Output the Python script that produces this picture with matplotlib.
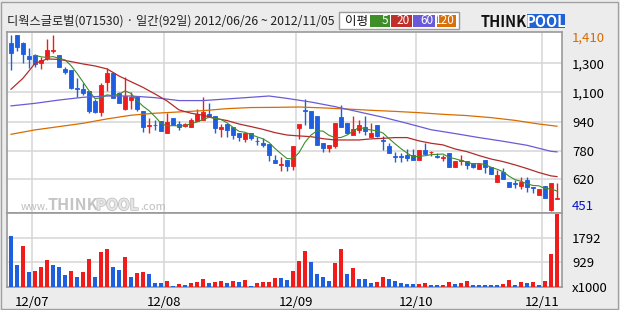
import matplotlib
matplotlib.use("Agg")
import matplotlib.pyplot as plt
import matplotlib.patheffects as pe
from matplotlib.patches import Rectangle
import numpy as np
import pandas as pd

plt.rcParams['font.family'] = ['Noto Sans CJK KR', 'DejaVu Sans']

# ---- data ----
title = "디웍스글로벌(071530) · 일간(92일) 2012/06/26 ~ 2012/11/05"

opens = [1365, 1410, 1365, 1296, 1300, 1259, 1283, 1320, 1300, 1225,
         1219, 1119, 1116, 1104, 1050, 992, 1156, 1205, 1096, 1005,
         1053, 1073, 995, 914, 920, 938, 875, 956, 924, 914,
         910, 942, 948, 981, 968, 897, 922, 906, 877, 843,
         875, 833, 821, 815, 728, 699, 728, 695, 904, 999,
         995, 968, 819, 795, 804, 962, 930, 865, 892, 906,
         855, 919, 837, 804, 752, 748, 756, 756, 730, 782,
         770, 748, 739, 766, 690, 723, 720, 710, 681, 728,
         688, 610, 661, 610, 601, 586, 619, 580, 536, 586,
         455, 515]
highs = [1410, 1410, 1373, 1337, 1306, 1292, 1388, 1410, 1300, 1237,
         1219, 1174, 1146, 1104, 1059, 1146, 1229, 1210, 1101, 1183,
         1101, 1077, 995, 959, 946, 938, 983, 956, 938, 932,
         956, 1005, 1073, 1041, 968, 924, 922, 906, 877, 875,
         877, 851, 847, 815, 756, 746, 728, 804, 924, 1061,
         995, 968, 819, 810, 930, 1029, 930, 968, 946, 968,
         928, 919, 859, 819, 774, 768, 786, 786, 782, 823,
         779, 768, 756, 766, 723, 754, 720, 710, 706, 728,
         688, 673, 684, 610, 621, 635, 635, 582, 572, 586,
         601, 601]
lows = [1219, 1320, 1255, 1231, 1233, 1223, 1274, 1310, 1233, 1195,
        1114, 1073, 1083, 983, 983, 970, 1104, 1065, 1037, 1001,
        1006, 997, 883, 873, 892, 888, 873, 916, 892, 906,
        906, 938, 946, 961, 877, 855, 855, 841, 833, 825,
        837, 810, 797, 724, 710, 670, 670, 673, 843, 919,
        904, 810, 774, 774, 795, 908, 870, 865, 873, 865,
        855, 855, 782, 768, 719, 719, 724, 730, 730, 761,
        748, 737, 724, 688, 690, 702, 677, 684, 681, 659,
        651, 610, 623, 579, 574, 568, 552, 550, 536, 522,
        451, 515]
closes = [1314, 1346, 1304, 1281, 1250, 1274, 1328, 1328, 1233, 1207,
          1119, 1116, 1092, 995, 992, 1138, 1201, 1065, 1041, 1079,
          1070, 1006, 910, 919, 917, 888, 936, 916, 910, 924,
          946, 979, 990, 963, 901, 910, 890, 865, 855, 875,
          847, 829, 810, 756, 710, 706, 695, 804, 924, 993,
          904, 810, 795, 810, 930, 908, 877, 897, 919, 888,
          875, 859, 833, 768, 746, 742, 739, 730, 782, 761,
          774, 744, 742, 690, 723, 726, 702, 688, 706, 692,
          653, 647, 623, 582, 597, 608, 579, 577, 572, 522,
          601, 519]
volumes = [1839, 787, 1476, 569, 580, 714, 968, 787, 750, 460,
           605, 387, 569, 1004, 387, 1258, 1367, 750, 641, 1077,
           387, 532, 569, 496, 169, 165, 242, 60, 133, 97,
           169, 175, 315, 169, 206, 210, 169, 242, 206, 278,
           60, 169, 175, 180, 351, 340, 278, 605, 932, 1295,
           895, 496, 387, 242, 859, 1367, 496, 678, 315, 310,
           169, 206, 387, 315, 242, 140, 135, 130, 135, 140,
           100, 97, 100, 206, 133, 140, 242, 97, 95, 92,
           90, 88, 133, 278, 97, 206, 169, 206, 97, 242,
           1186, 2638]

# moving averages (they start before the window)
ma20_idx = list(range(0, 91, 2)) + [91]
ma20_val = [1114, 1174, 1255, 1279, 1277, 1265, 1252, 1241, 1225, 1186,
            1155, 1124, 1088, 1050, 1001, 983, 972, 955, 943, 924,
            910, 895, 877, 864, 859, 855, 844, 837, 837, 837,
            843, 846, 850, 850, 832, 819, 810, 788, 773, 752,
            733, 719, 701, 681, 659, 641, 637]
ma60_idx = [0, 4, 8, 12, 16, 20, 24, 28, 32, 36, 40, 43, 46, 50, 54, 58,
            62, 66, 70, 74, 78, 82, 86, 90, 91]
ma60_val = [1023, 1037, 1055, 1070, 1077, 1077, 1068, 1052, 1052, 1061,
            1070, 1077, 1064, 1044, 1019, 990, 961, 928, 893, 872,
            850, 830, 808, 775, 772]
ma120_idx = [0, 4, 8, 12, 16, 20, 24, 28, 32, 36, 40, 44, 48, 52, 56, 60,
             64, 68, 72, 76, 80, 84, 88, 91]
ma120_val = [868, 892, 910, 928, 952, 972, 983, 990, 997, 1008, 1014, 1015,
             1017, 1012, 1006, 999, 993, 986, 977, 970, 959, 944, 924, 912]

month_starts = [4, 26, 48, 68, 89]      # first trading day of each month
month_labels = ["12/07", "12/08", "12/09", "12/10", "12/11"]
price_grid = [622, 779, 937, 1097, 1256]
price_grid_labels = ["620", "780", "940", "1,100", "1,300"]
vol_grid = [929, 1792]
legend_items = [("5", "#3E8E2A"), ("20", "#C0302A"), ("60", "#6A5AD8"), ("120", "#D9700A")]

# ---- styles ----
W, H = 620, 310
BG = "#ECECEC"
GRID = "#D6D6D6"
FRAME = "#9A9A9A"
UP = "#F01C1C"
DOWN = "#1E5FE0"
C5, C20, C60, C120 = "#3E8E2A", "#B22B2B", "#6A5AD8", "#D86C00"


def fx(x):
    return x / W


def fy(y):
    return 1 - y / H


fig = plt.figure(figsize=(W / 100, H / 100), dpi=100, facecolor=BG)
ax = fig.add_axes([fx(7), fy(212.7), (562 - 7) / W, (212.7 - 31.7) / H])
axv = fig.add_axes([fx(7), fy(287.3), (562 - 7) / W, (287.3 - 212.7) / H], sharex=ax)

x = np.arange(len(closes))
o = np.array(opens); c = np.array(closes)
cols = [UP if cc >= oo else DOWN for oo, cc in zip(opens, closes)]

# candles
ax.vlines(x, lows, highs, colors=cols, linewidth=1.0, zorder=2)
ax.bar(x, np.abs(c - o), bottom=np.minimum(o, c), width=0.62, color=cols,
       edgecolor=cols, linewidth=0.6, zorder=3)

# moving averages
ma5 = pd.Series(closes).rolling(5).mean()
ax.plot(ma120_idx, ma120_val, color=C120, lw=0.9, zorder=4)
ax.plot(ma60_idx, ma60_val, color=C60, lw=0.9, zorder=4)
ax.plot(ma20_idx, ma20_val, color=C20, lw=0.9, zorder=4)
ax.plot(x, ma5, color=C5, lw=0.8, zorder=4)

# volume
vcols = [DOWN] + [UP if volumes[i] > volumes[i - 1] else DOWN for i in range(1, len(volumes))]
axv.bar(x, volumes, width=0.8, color=vcols, linewidth=0, zorder=3)

# grids
for g in price_grid:
    ax.axhline(g, color=GRID, lw=1.1, zorder=0)
for g in vol_grid:
    axv.axhline(g, color=GRID, lw=1.1, zorder=0)
for m in month_starts:
    ax.axvline(m - 0.5, color=GRID, lw=1.1, zorder=0)
    axv.axvline(m - 0.5, color=GRID, lw=1.1, zorder=0)

ax.set_xlim(-0.67, 91.83)
ax.set_ylim(440, 1428)
axv.set_ylim(0, 2690)

for a in (ax, axv):
    a.set_facecolor("white")
    for s in a.spines.values():
        s.set_color(FRAME)
        s.set_linewidth(1.2)
    a.yaxis.tick_right()
    a.tick_params(axis='y', length=0, pad=7.2, labelsize=9.5, colors='black')

ax.set_yticks(price_grid, price_grid_labels)
axv.set_yticks(vol_grid, [str(v) for v in vol_grid])
axv.set_xticks([m - 0.5 for m in month_starts], month_labels)
axv.tick_params(axis='x', length=0, pad=6, labelsize=9.5)
ax.tick_params(axis='x', bottom=False, labelbottom=False)

# max / min price labels
ax.annotate(f"{max(highs):,}", xy=(1, max(highs)), xycoords=('axes fraction', 'data'),
            xytext=(7.2, -2.4), textcoords='offset points', va='center', ha='left',
            fontsize=9.5, color=C120)
ax.annotate(f"{min(lows):,}", xy=(1, min(lows)), xycoords=('axes fraction', 'data'),
            xytext=(7.2, 2.9), textcoords='offset points', va='center', ha='left',
            fontsize=9.5, color="#0A14C8")
axv.annotate("x1000", xy=(1, 0), xycoords='axes fraction', xytext=(7.2, -1),
             textcoords='offset points', va='center', ha='left', fontsize=9.5)

# watermark (bottom-left of the price panel)
fig.text(fx(21), fy(210), "www.", fontsize=7.5, color="#BDBDBD", va='baseline', ha='left')
fig.text(fx(47), fy(210), "THINK", fontsize=11.5, fontweight='bold', color="#C4C4C4",
         va='baseline', ha='left')
fig.text(fx(96), fy(210), "POOL", fontsize=11, fontweight='bold', color="#E6E6E6",
         va='baseline', ha='left',
         path_effects=[pe.withStroke(linewidth=1.2, foreground="#C4C4C4")])
fig.text(fx(140), fy(210), ".com", fontsize=8, color="#BDBDBD", va='baseline', ha='left')

# title bar
fig.text(fx(7), fy(21.5), title, fontsize=8.8, color="#222222", va='center', ha='left')

# MA legend box
fig.patches.append(Rectangle((fx(339.3), fy(29.3)), 120 / W, 17 / H, transform=fig.transFigure,
                             facecolor="white", edgecolor="#9A9A9A", lw=1))
fig.text(fx(345), fy(21), "이평", fontsize=9, va='center', ha='left', color="#111111")
cells = [(370, 390), (391.3, 411.7), (413.3, 435), (436.7, 456)]
for (x0, x1), (lab, col) in zip(cells, legend_items):
    fig.patches.append(Rectangle((fx(x0), fy(27)), (x1 - x0) / W, 12 / H,
                                 transform=fig.transFigure, facecolor=col, edgecolor='none'))
    fig.text(fx(x1 - 1.5), fy(21), lab, fontsize=8.5, color="white", va='center', ha='right')

# logo
fig.text(fx(481), fy(27), "THINK", fontsize=10.5, fontweight='heavy', color="#111111",
         va='baseline', ha='left')
fig.patches.append(Rectangle((fx(526.7), fy(27.5)), 38.3 / W, 13.5 / H, transform=fig.transFigure,
                             facecolor="#1F63D6", edgecolor='none'))
fig.text(fx(545.8), fy(27), "POOL", fontsize=10.5, fontweight='heavy', color="white",
         va='baseline', ha='center')

# outer frame
fig.patches.append(Rectangle((fx(1), fy(308.5)), 617 / W, 306.5 / H, transform=fig.transFigure,
                             facecolor='none', edgecolor="#A0A0A0", lw=1))

fig.savefig("out.png", dpi=100, facecolor=BG)
